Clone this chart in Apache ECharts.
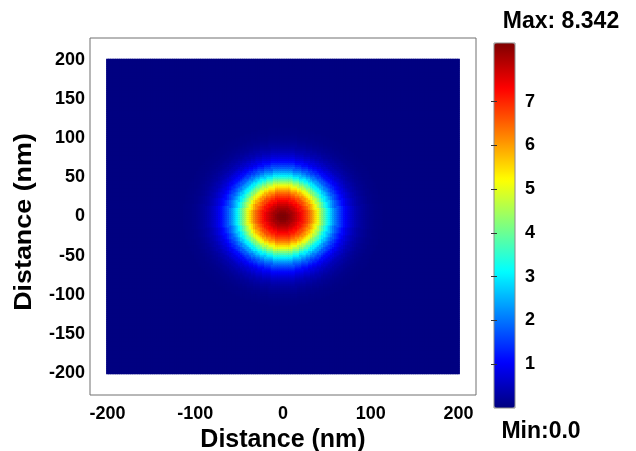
<!DOCTYPE html>
<html><head><meta charset="utf-8">
<script src="https://cdn.jsdelivr.net/npm/echarts@6/dist/echarts.min.js"></script>
<style>html,body{margin:0;padding:0;background:#fff}#c{width:636px;height:451px}</style>
</head><body><div id="c"></div>
<script>
// Radial intensity profile (distance from centre in nm -> value)
const profileRadiusNm = [0, 2.5, 5, 7.5, 10, 12.5, 15, 17.5, 20, 22.5, 25, 27.5, 30, 32.5, 35, 37.5, 40, 42.5, 45, 47.5,
  50, 52.5, 55, 57.5, 60, 62.5, 65, 67.5, 70, 72.5, 75, 77.5, 80, 82.5, 85, 87.5, 90, 92.5, 95, 97.5,
  100, 102.5, 105, 107.5, 110, 112.5, 115];
const profileValue = [8.342, 8.32, 8.25, 8.15, 8.02, 7.88, 7.72, 7.55, 7.35, 7.15, 6.93, 6.7, 6.45, 6.15, 5.82, 5.45, 5.05, 4.62, 4.2, 3.8,
  3.4, 3.02, 2.68, 2.35, 2.05, 1.78, 1.54, 1.32, 1.12, 0.95, 0.8, 0.67, 0.56, 0.46, 0.38, 0.31, 0.25, 0.2, 0.16, 0.13,
  0.1, 0.08, 0.06, 0.05, 0.04, 0.03, 0.02];
const gridStepNm = 2.5;
const xTicks = [-200, -100, 0, 100, 200];
const yTicks = [-200, -150, -100, -50, 0, 50, 100, 150, 200];
const colorbarTicks = [1, 2, 3, 4, 5, 6, 7];
const valueMin = 0.0;
const valueMax = 8.342;
const jetColors = ['#00007f', '#0000ff', '#007fff', '#00ffff', '#7fff7f', '#ffff00', '#ff7f00', '#ff0000', '#7f0000'];
const axisTitle = 'Distance (nm)';

// cell centres -200..200 nm
const cellCoords = [];
for (let i = 0; i <= 400 / gridStepNm; i++) cellCoords.push(-200 + i * gridStepNm);
const heatData = [];
cellCoords.forEach((x, i) => cellCoords.forEach((y, j) => {
  const r = Math.hypot(x, y);
  let k = Math.round(r / gridStepNm);
  if (k >= profileValue.length) k = profileValue.length - 1;
  heatData.push([i, j, profileValue[k]]);
}));

// layout
const FONT = '"Liberation Sans", Arial, Helvetica, sans-serif';
const frame = {left: 90, top: 38, width: 386, height: 357};
const xr = [-220, 220], yr = [-228, 228];
const half = 200 + gridStepNm / 2;
const pxX = frame.width / (xr[1] - xr[0]);
const pxY = frame.height / (yr[1] - yr[0]);
const heatGrid = {
  left: frame.left + (-half - xr[0]) * pxX,
  top: frame.top + (yr[1] - half) * pxY,
  width: 2 * half * pxX,
  height: 2 * half * pxY
};
const bar = {left: 494, top: 43, width: 21, height: 365};
const labelStyle = {fontSize: 18, fontWeight: 'bold', color: '#000', fontFamily: FONT};
const gridBase = {containLabel: false, outerBoundsMode: 'none'};

const chart = echarts.init(document.getElementById('c'));
chart.setOption({
  animation: false,
  backgroundColor: '#fff',
  grid: [
    Object.assign({show: true, borderColor: '#707070', borderWidth: 1, backgroundColor: '#fff'}, gridBase, frame),
    Object.assign({show: true, borderWidth: 0, backgroundColor: '#000082'}, gridBase, heatGrid),
    Object.assign({show: true, borderColor: '#8a8a8a', borderWidth: 1, backgroundColor: 'transparent', z: 10}, gridBase, bar)
  ],
  xAxis: [
    {gridIndex: 0, type: 'value', min: xr[0], max: xr[1],
     axisLine: {show: false}, axisTick: {show: false}, splitLine: {show: false},
     axisLabel: Object.assign({customValues: xTicks, margin: 10}, labelStyle),
     name: axisTitle, nameLocation: 'middle', nameGap: 26,
     nameTextStyle: {fontSize: 25, fontWeight: 'bold', color: '#000', fontFamily: FONT}},
    {gridIndex: 1, type: 'category', data: cellCoords, show: false},
    {gridIndex: 2, type: 'value', min: 0, max: 1, show: false}
  ],
  yAxis: [
    {gridIndex: 0, type: 'value', min: yr[0], max: yr[1],
     axisLine: {show: false}, axisTick: {show: false}, splitLine: {show: false},
     axisLabel: Object.assign({customValues: yTicks, margin: 5}, labelStyle)},
    {gridIndex: 1, type: 'category', data: cellCoords, show: false},
    {gridIndex: 2, type: 'value', min: valueMin, max: valueMax, position: 'right', z: 10,
     axisLine: {show: false}, splitLine: {show: false},
     axisTick: {show: true, inside: true, length: 3, customValues: colorbarTicks, lineStyle: {color: '#333', width: 1}},
     axisLabel: Object.assign({customValues: colorbarTicks, margin: 10}, labelStyle)},
    {gridIndex: 2, type: 'value', min: valueMin, max: valueMax, position: 'left', z: 10,
     axisLine: {show: false}, splitLine: {show: false},
     axisTick: {show: true, inside: true, length: 3, customValues: colorbarTicks, lineStyle: {color: '#333', width: 1}},
     axisLabel: {show: false}}
  ],
  visualMap: {
    type: 'continuous', min: valueMin, max: valueMax, seriesIndex: 0,
    left: bar.left, top: bar.top, itemWidth: bar.width, itemHeight: bar.height,
    padding: 0, calculable: false, orient: 'vertical',
    inRange: {color: jetColors}
  },
  graphic: [
    {type: 'text', x: 24, y: 222, rotation: Math.PI / 2, scaleX: 1.12,
     style: {text: axisTitle, font: 'bold 24px ' + FONT, fill: '#000', textAlign: 'center', textVerticalAlign: 'middle'}},
    {type: 'text', x: 561, y: 22, style: {text: 'Max: ' + valueMax.toFixed(3), font: 'bold 23px ' + FONT, fill: '#000', textAlign: 'center', textVerticalAlign: 'middle'}},
    {type: 'text', x: 541, y: 432, style: {text: 'Min:' + valueMin.toFixed(1), font: 'bold 23px ' + FONT, fill: '#000', textAlign: 'center', textVerticalAlign: 'middle'}}
  ],
  series: [
    {type: 'heatmap', xAxisIndex: 1, yAxisIndex: 1, data: heatData, progressive: 0, emphasis: {disabled: true}},
    {type: 'scatter', xAxisIndex: 2, yAxisIndex: 2, data: []}
  ]
});
</script></body></html>
